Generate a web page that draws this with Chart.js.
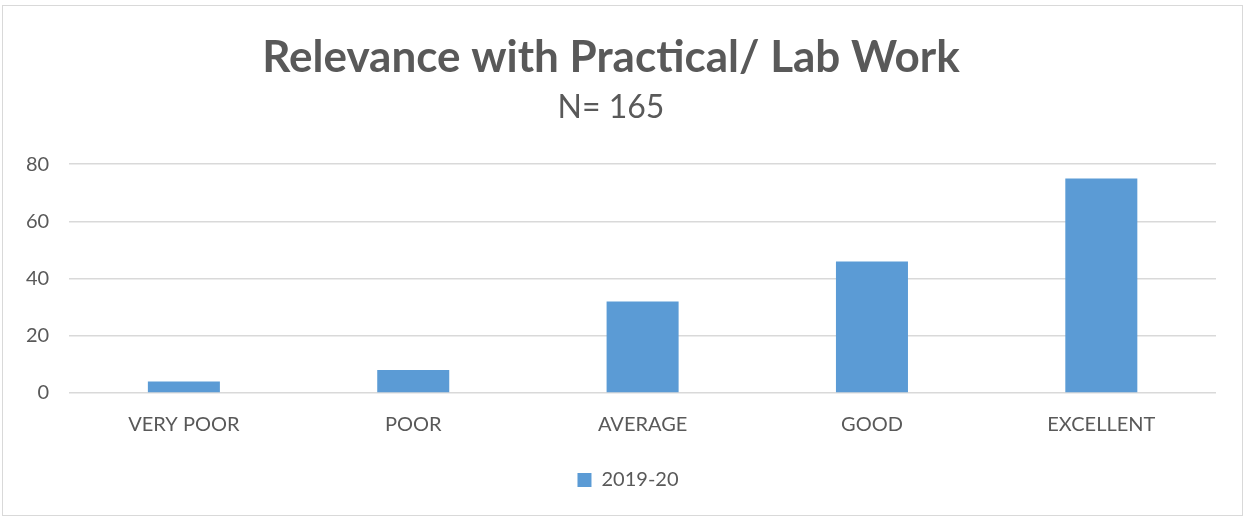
<!DOCTYPE html>
<html>
<head>
<meta charset="utf-8">
<script src="https://cdn.jsdelivr.net/npm/chart.js@4/dist/chart.umd.min.js"></script>
<style>
  html, body { margin: 0; padding: 0; background: #ffffff; }
  #wrap { position: relative; width: 1245px; height: 517px; }
</style>
</head>
<body>
<div id="wrap"><canvas id="c" width="1245" height="517"></canvas></div>
<script>
const categories = ["VERY POOR", "POOR", "AVERAGE", "GOOD", "EXCELLENT"];
const seriesName = "2019-20";
const seriesValues = [4, 8, 32, 46, 75];
const yTicks = [0, 20, 40, 60, 80];
const titleText = "Relevance with Practical/ Lab Work";
const subtitleText = "N= 165";

const frame = {
  id: 'frame',
  beforeDraw(chart) {
    const ctx = chart.ctx;
    ctx.save();
    ctx.fillStyle = '#ffffff';
    ctx.fillRect(0, 0, chart.width, chart.height);
    ctx.strokeStyle = '#d9d9d9';
    ctx.lineWidth = 1;
    ctx.strokeRect(2.5, 5.5, 1240, 510);
    ctx.restore();
  },
  afterLayout(chart) {
    if (chart.legend) {
      chart.legend.left += 17;
      chart.legend.right += 17;
    }
  }
};

new Chart(document.getElementById('c'), {
  type: 'bar',
  data: {
    labels: categories,
    datasets: [{
      label: seriesName,
      data: seriesValues,
      backgroundColor: '#5b9bd5',
      borderWidth: 0,
      categoryPercentage: 1.0,
      barPercentage: 0.314
    }]
  },
  options: {
    responsive: false,
    animation: false,
    devicePixelRatio: 1,
    layout: { padding: { left: 6, right: 29, top: 31, bottom: 17 } },
    plugins: {
      title: {
        display: true,
        text: titleText,
        color: '#595959',
        font: { family: 'Lato', size: 44, weight: 'bold' },
        padding: { top: 0, bottom: 5 }
      },
      subtitle: {
        display: true,
        text: subtitleText,
        color: '#595959',
        font: { family: 'Lato', size: 32 },
        padding: { top: 0, bottom: 37 }
      },
      legend: {
        display: true,
        position: 'bottom',
        labels: {
          color: '#595959',
          font: { family: 'Lato', size: 20 },
          boxWidth: 14,
          boxHeight: 14,
          padding: 20
        }
      },
      tooltip: { enabled: false }
    },
    scales: {
      x: {
        afterFit(scale) { scale.height -= 7; },
        grid: { display: false, drawTicks: false },
        border: { display: false },
        ticks: { color: '#595959', font: { family: 'Lato', size: 20 }, padding: 20 }
      },
      y: {
        min: 0,
        max: 80,
        afterBuildTicks(axis) { axis.ticks = yTicks.map(v => ({ value: v })); },
        grid: { color: '#d9d9d9', lineWidth: 1.5, drawTicks: false },
        border: { display: false },
        ticks: { color: '#595959', font: { family: 'Lato', size: 20 }, padding: 20 }
      }
    }
  },
  plugins: [frame]
});
</script>
</body>
</html>
